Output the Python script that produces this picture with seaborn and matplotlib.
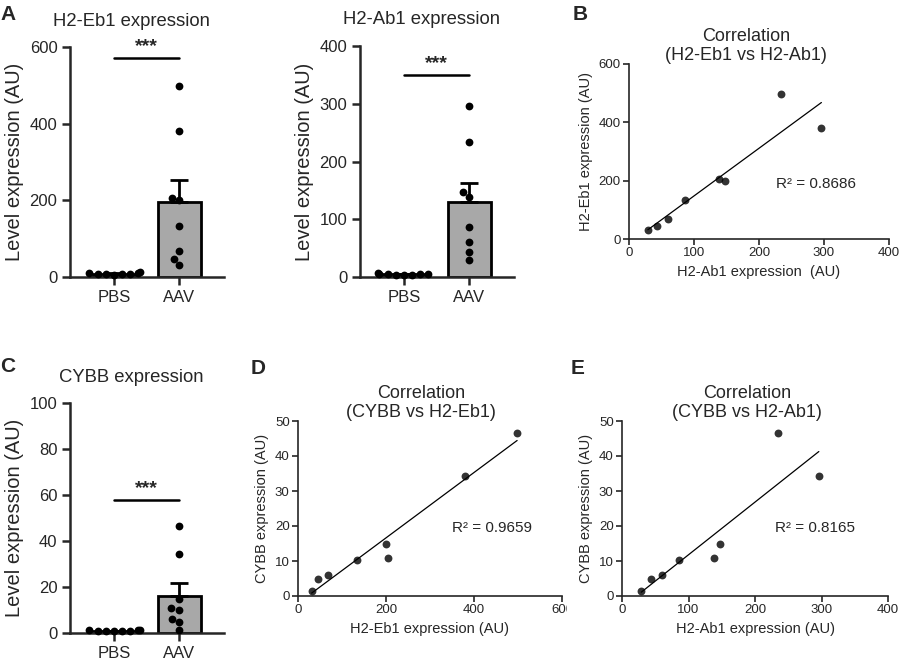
import numpy as np
import pandas as pd
import seaborn as sns
import matplotlib.pyplot as plt
from matplotlib.patches import Rectangle

# datos
grupos = ["PBS", "AAV"]

eb1_pbs = [6, 8, 9, 10, 11, 12, 8, 9]
ab1_pbs = [3, 4, 5, 5, 6, 7, 4, 6]
cybb_pbs = [0.7, 0.9, 1.0, 1.1, 1.2, 0.8, 1.0, 1.3]

ab1_aav = [29, 43, 60, 86, 138, 147, 234, 296]
eb1_aav = [31, 46, 69, 133, 205, 200, 498, 380]
cybb_aav = [1.5, 5.0, 6.0, 10.2, 10.8, 15.0, 46.5, 34.3]

r2_textos = ["R² = 0.8686", "R² = 0.9659", "R² = 0.8165"]

sns.set_style("ticks")
plt.rcParams["font.family"] = ["Liberation Sans", "DejaVu Sans"]

GRIS = "#a8a8a8"
fig = plt.figure(figsize=(9, 6.62), dpi=100)

def px(l, t, r, b):
    W, H = 900, 662
    return [l / W, 1 - b / H, (r - l) / W, (b - t) / H]


def panel_barras(rect, pbs, aav, titulo, ymax, paso, ysig):
    ax = fig.add_axes(rect)
    df = pd.DataFrame({"grupo": ["PBS"] * len(pbs) + ["AAV"] * len(aav),
                       "valor": list(pbs) + list(aav)})
    sns.barplot(data=df, x="grupo", y="valor", order=grupos, color=GRIS,
                errorbar=None, edgecolor="black", linewidth=2, width=0.65,
                saturation=1, ax=ax, zorder=2)
    medias = [np.mean(pbs), np.mean(aav)]
    sems = [np.std(pbs, ddof=1) / np.sqrt(len(pbs)),
            np.std(aav, ddof=1) / np.sqrt(len(aav))]
    ax.errorbar([0, 1], medias, yerr=[[0, 0], sems], fmt="none", ecolor="black",
                elinewidth=2, capsize=6.5, capthick=2, zorder=3)
    sns.swarmplot(data=df, x="grupo", y="valor", order=grupos, color="black",
                  size=5.6, ax=ax, zorder=4, clip_on=False)
    ax.set_xlim(-0.67, 1.68)
    ax.set_ylim(0, ymax)
    ax.set_yticks(np.arange(0, ymax + 1, paso))
    ax.set_xlabel("")
    ax.set_ylabel("Level expression (AU)", fontsize=14.5)
    ax.tick_params(labelsize=12, length=6, width=1.8, pad=3)
    for s in ["left", "bottom"]:
        ax.spines[s].set_linewidth(1.8)
    sns.despine(ax=ax)
    # barra de significancia
    ax.plot([0, 1], [ysig, ysig], color="black", lw=1.8, clip_on=False)
    ax.text(0.5, ysig + ymax * 0.012, "***", ha="center", va="bottom",
            fontsize=14, fontweight="bold")
    ax.text(0.40, 1.113, titulo, transform=ax.transAxes, ha="center",
            va="center", fontsize=13.3)
    return ax


def panel_corr(rect, x, y, titulo, xlabel, ylabel, xmax, xpaso, ymax, ypaso,
               r2, r2pos, tx):
    ax = fig.add_axes(rect)
    sns.regplot(x=np.array(x), y=np.array(y), ci=None, ax=ax, color="black",
                scatter_kws={"s": 32, "linewidths": 0, "zorder": 3},
                line_kws={"lw": 0.9})
    ax.set_xlim(0, xmax)
    ax.set_ylim(0, ymax)
    ax.set_xticks(np.arange(0, xmax + 1, xpaso))
    ax.set_yticks(np.arange(0, ymax + 1, ypaso))
    ax.set_xlabel(xlabel, fontsize=10.5)
    ax.set_ylabel(ylabel, fontsize=10.5)
    ax.tick_params(labelsize=9.5, length=4, width=1.2, pad=2)
    for s in ["left", "bottom"]:
        ax.spines[s].set_linewidth(1.2)
    sns.despine(ax=ax)
    ax.text(r2pos[0], r2pos[1], r2, fontsize=11, va="center")
    ax.text(tx, 1.0, titulo, transform=ax.transAxes, ha="center",
            va="bottom", fontsize=13, linespacing=1.15)
    return ax


panel_barras(px(70, 47, 224, 277), eb1_pbs, eb1_aav, "H2-Eb1 expression",
             600, 200, 571)
panel_barras(px(360, 46, 514, 277), ab1_pbs, ab1_aav, "H2-Ab1 expression",
             400, 100, 350)
panel_barras(px(70, 403, 224, 633), cybb_pbs, cybb_aav, "CYBB expression",
             100, 20, 58)

axB = panel_corr(px(629, 64, 889, 239), ab1_aav, eb1_aav,
                 "Correlation\n(H2-Eb1 vs H2-Ab1)", "H2-Ab1 expression  (AU)",
                 "H2-Eb1 expression (AU)", 400, 100, 600, 200,
                 r2_textos[0], (226, 188), 0.45)
axD = panel_corr(px(298, 421, 562, 596), eb1_aav, cybb_aav,
                 "Correlation\n(CYBB vs H2-Eb1)", "H2-Eb1 expression (AU)",
                 "CYBB expression (AU)", 600, 200, 50, 10,
                 r2_textos[1], (350, 19.5), 0.465)
axE = panel_corr(px(622, 421, 888, 596), ab1_aav, cybb_aav,
                 "Correlation\n(CYBB vs H2-Ab1)", "H2-Ab1 expression (AU)",
                 "CYBB expression (AU)", 400, 100, 50, 10,
                 r2_textos[2], (230, 19.5), 0.47)

# letras de los paneles
for letra, (x, y) in zip("ABCDE", [(8, 15), (580, 14), (8, 367), (258, 368),
                                    (578, 368)]):
    fig.text(x / 900, 1 - y / 662, letra, fontsize=15, fontweight="bold",
             ha="center", va="center")

# el "600" del panel D queda cortado por el panel E
fig.patches.append(Rectangle((567 / 900, 1 - 628 / 662), 18 / 900, 30 / 662,
                             transform=fig.transFigure, color="white",
                             zorder=10))

fig.savefig("out.png", dpi=100)
